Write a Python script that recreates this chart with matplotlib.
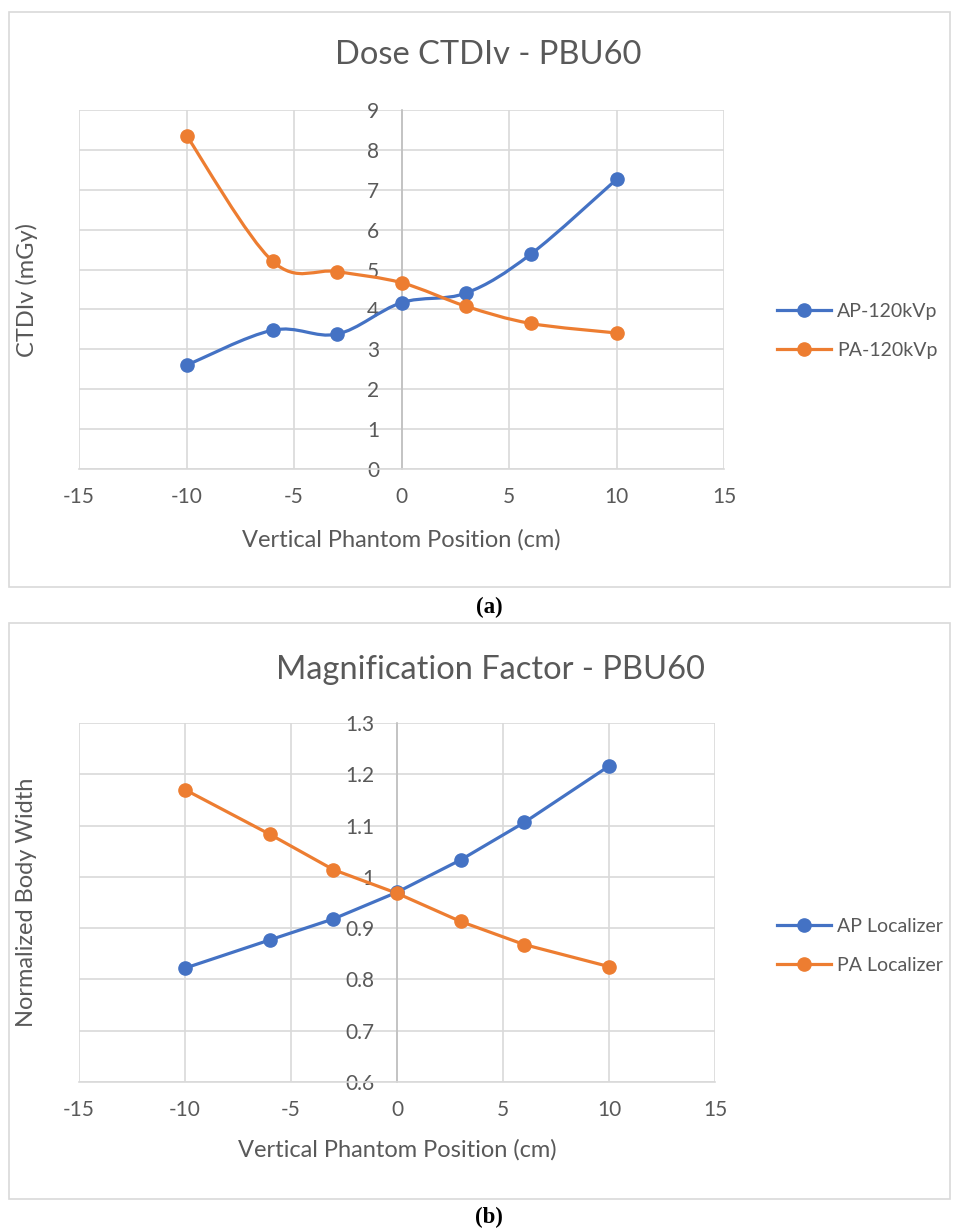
import numpy as np
import matplotlib.pyplot as plt
from matplotlib.path import Path
from matplotlib.patches import PathPatch, Rectangle
from matplotlib.lines import Line2D

# Data
positions = [-10, -6, -3, 0, 3, 6, 10]

ctdi_ap = [2.60, 3.48, 3.38, 4.17, 4.41, 5.38, 7.26]
ctdi_pa = [8.36, 5.21, 4.95, 4.67, 4.08, 3.65, 3.41]

mag_ap = [0.822, 0.877, 0.918, 0.970, 1.033, 1.106, 1.216]
mag_pa = [1.170, 1.083, 1.014, 0.968, 0.913, 0.868, 0.825]

x_ticks = [-15, -10, -5, 0, 5, 10, 15]
ctdi_ticks = list(range(0, 10))
mag_ticks = [0.6, 0.7, 0.8, 0.9, 1.0, 1.1, 1.2, 1.3]
mag_tick_labels = ['0.6', '0.7', '0.8', '0.9', '1', '1.1', '1.2', '1.3']

BLUE = '#4472C4'
ORANGE = '#ED7D31'
GRID = '#D9D9D9'
TEXT = '#595959'
FONT = 'Lato'

W, H = 958, 1232
plt.rcParams['font.family'] = [FONT, 'DejaVu Sans']
plt.rcParams['axes.unicode_minus'] = False

fig = plt.figure(figsize=(W / 100, H / 100), dpi=100)


def fx(px):
    return px / W


def fy(py):
    return 1 - py / H


def smooth_path(xs, ys):
    # Excel-style smoothed line: cubic bezier through the points
    p = np.column_stack([xs, ys]).astype(float)
    n = len(p)
    verts = [p[0]]
    codes = [Path.MOVETO]
    for i in range(n - 1):
        prev = p[i - 1] if i > 0 else p[i]
        nxt = p[i + 2] if i + 2 < n else p[i + 1]
        c1 = p[i] + (p[i + 1] - prev) / 6
        c2 = p[i + 1] - (nxt - p[i]) / 6
        verts += [c1, c2, p[i + 1]]
        codes += [Path.CURVE4] * 3
    return Path(verts, codes)


def make_panel(rect_px, box_px, title, title_xy, ylabel, ylabel_xy, xlabel_xy,
               ap, pa, labels, yticks, yticklabels, ylim, smooth, legend_y):
    l, t, r, b = rect_px
    ax = fig.add_axes([fx(l), fy(b), fx(r) - fx(l), fy(t) - fy(b)])

    # border around the chart
    bx0, by0, bx1, by1 = box_px
    fig.patches.append(Rectangle((fx(bx0), fy(by1)), fx(bx1) - fx(bx0), fy(by0) - fy(by1),
                                 transform=fig.transFigure, fill=False,
                                 edgecolor=GRID, linewidth=1.2))

    for ys, col in [(ap, BLUE), (pa, ORANGE)]:
        if smooth:
            ax.add_patch(PathPatch(smooth_path(positions, ys), facecolor='none',
                                   edgecolor=col, linewidth=2.3, zorder=3,
                                   capstyle='round', joinstyle='round'))
        else:
            ax.plot(positions, ys, color=col, linewidth=2.3, zorder=3,
                    solid_capstyle='round')
        ax.plot(positions, ys, 'o', color=col, markersize=9.5, zorder=4)

    ax.set_xlim(-15, 15)
    ax.set_ylim(*ylim)
    ax.set_xticks(x_ticks)
    ax.set_yticks(yticks)
    ax.set_yticklabels(yticklabels)
    ax.grid(True, color=GRID, linewidth=1.2)
    ax.set_axisbelow(True)

    for s in ['top', 'right']:
        ax.spines[s].set_visible(False)
    ax.spines['bottom'].set_color(GRID)
    ax.spines['bottom'].set_linewidth(1.2)
    ax.spines['left'].set_position(('data', 0))
    ax.spines['left'].set_color('#BFBFBF')
    ax.spines['left'].set_linewidth(1.2)
    ax.tick_params(axis='both', length=0, labelsize=15, colors=TEXT)
    ax.tick_params(axis='y', pad=16)
    ax.tick_params(axis='x', pad=13)

    fig.text(fx(title_xy[0]), fy(title_xy[1]), title, ha='center', va='center',
             fontsize=23.5, color=TEXT)
    fig.text(fx(ylabel_xy[0]), fy(ylabel_xy[1]), ylabel, ha='center', va='center',
             rotation=90, fontsize=17, color=TEXT)
    fig.text(fx(xlabel_xy[0]), fy(xlabel_xy[1]), 'Vertical Phantom Position (cm)',
             ha='center', va='center', fontsize=17, color=TEXT)

    handles = [Line2D([], [], color=BLUE, linewidth=2.3, marker='o', markersize=9.5),
               Line2D([], [], color=ORANGE, linewidth=2.3, marker='o', markersize=9.5)]
    leg = fig.legend(handles, labels, loc='center left',
                     bbox_to_anchor=(fx(777), fy(legend_y)), frameon=False,
                     fontsize=14, handlelength=2.8, handletextpad=0.3,
                     labelspacing=1.15, borderpad=0, borderaxespad=0)
    for txt in leg.get_texts():
        txt.set_color(TEXT)
    return ax


make_panel((79, 110, 724, 469), (9, 12, 950, 587), 'Dose CTDIv - PBU60', (488, 55),
           'CTDIv (mGy)', (27, 290), (401, 540),
           ctdi_ap, ctdi_pa, ['AP-120kVp', 'PA-120kVp'],
           ctdi_ticks, [str(v) for v in ctdi_ticks], (0, 9), True, 331)

make_panel((79, 723, 715, 1082), (9, 623, 950, 1199), 'Magnification Factor - PBU60', (490, 670),
           'Normalized Body Width', (27, 902), (397, 1150),
           mag_ap, mag_pa, ['AP Localizer', 'PA Localizer'],
           mag_ticks, mag_tick_labels, (0.6, 1.3), False, 946)

fig.text(fx(489), fy(607), '(a)', ha='center', va='center', fontsize=16.5,
         fontweight='bold', family=['Liberation Serif', 'DejaVu Serif'], color='black')
fig.text(fx(489), fy(1217), '(b)', ha='center', va='center', fontsize=16.5,
         fontweight='bold', family=['Liberation Serif', 'DejaVu Serif'], color='black')

fig.savefig('out.png', dpi=100)
